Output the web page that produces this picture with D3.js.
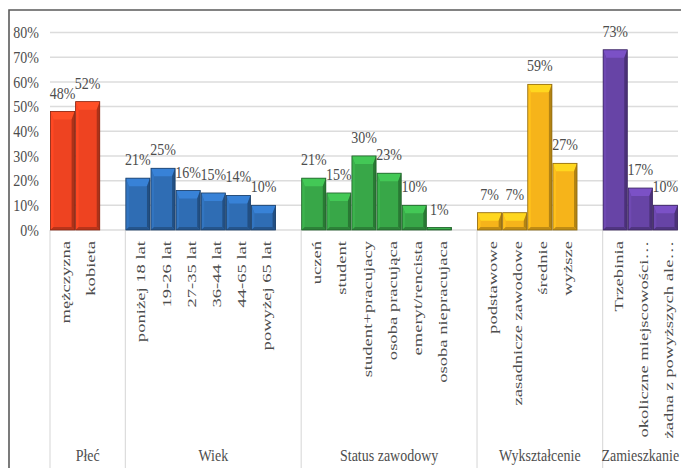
<!DOCTYPE html>
<html>
<head>
<meta charset="utf-8">
<script src="https://cdn.jsdelivr.net/npm/d3@7/dist/d3.min.js"></script>
<style>
  html, body { margin: 0; padding: 0; background: #fff; }
  svg { display: block; }
</style>
</head>
<body>
<svg id="chart" width="681" height="468" font-family="'Liberation Serif', 'Times New Roman', Tinos, 'DejaVu Serif', serif"></svg>
<script>
// Survey breakdown by respondent group (percent of respondents)
const groupNames = ["Płeć", "Wiek", "Status zawodowy", "Wykształcenie", "Zamieszkanie"];
const groupColors = ["#ee4321", "#2f6db4", "#38a748", "#f6b41a", "#6744a6"];

const plecCategories = ["mężczyzna", "kobieta"];
const plecValues = [48, 52];

const wiekCategories = ["poniżej 18 lat", "19-26 lat", "27-35 lat", "36-44 lat", "44-65 lat", "powyżej 65 lat"];
const wiekValues = [21, 25, 16, 15, 14, 10];

const statusCategories = ["uczeń", "student", "student+pracujacy", "osoba pracująca", "emeryt/rencista", "osoba niepracujaca"];
const statusValues = [21, 15, 30, 23, 10, 1];

const wyksztalcenieCategories = ["podstawowe", "zasadnicze zawodowe", "średnie", "wyższe"];
const wyksztalcenieValues = [7, 7, 59, 27];

const zamieszkanieCategories = ["Trzebinia", "okoliczne miejscowości…", "żadna z powyższych ale…"];
const zamieszkanieValues = [73, 17, 10];

const yTicks = [0, 10, 20, 30, 40, 50, 60, 70, 80];

const groupCategories = [plecCategories, wiekCategories, statusCategories, wyksztalcenieCategories, zamieszkanieCategories];
const groupValues = [plecValues, wiekValues, statusValues, wyksztalcenieValues, zamieszkanieValues];

// Build slots: each group's categories followed by one empty slot (except the last group)
const slots = [];
const bars = [];
groupNames.forEach((g, gi) => {
  groupCategories[gi].forEach((c, ci) => {
    const key = g + "|" + c;
    slots.push(key);
    bars.push({ key, group: gi, label: c, value: groupValues[gi][ci] });
  });
  if (gi < groupNames.length - 1) slots.push(g + "|__gap");
});

const svg = d3.select("#chart");
const plotLeft = 50, plotRight = 678, plotTop = 32.5, plotBase = 230, frameBottom = 468;
const textColor = "#4d4d4d";

const x = d3.scaleBand().domain(slots).range([plotLeft, plotRight]).padding(0);
const y = d3.scaleLinear().domain([0, 80]).range([plotBase, plotTop]);

// Outer frame (top and left edges)
svg.append("path")
  .attr("d", `M9,${frameBottom} L9,10 L681,10`)
  .attr("fill", "none").attr("stroke", "#5a5a5a").attr("stroke-width", 1.6);

// Gridlines
svg.append("g").selectAll("line").data(yTicks).join("line")
  .attr("x1", plotLeft).attr("x2", plotRight)
  .attr("y1", d => y(d)).attr("y2", d => y(d))
  .attr("stroke", "#dcdcdc").attr("stroke-width", 1.5);

// Y axis labels
svg.append("g").selectAll("text").data(yTicks).join("text")
  .attr("transform", d => `translate(39,${y(d)}) scale(1,1.15)`)
  .attr("text-anchor", "end").attr("dy", "0.36em")
  .attr("font-size", 14).attr("fill", textColor)
  .text(d => d + "%");

// Group separators on the category axis
const groupStarts = [];
groupNames.forEach((g, gi) => {
  groupStarts.push(x(g + "|" + groupCategories[gi][0]));
});
svg.append("g").selectAll("line").data(groupStarts).join("line")
  .attr("x1", d => d).attr("x2", d => d)
  .attr("y1", plotBase).attr("y2", frameBottom)
  .attr("stroke", "#dcdcdc").attr("stroke-width", 1.2);

// Bevelled bars
const barG = svg.append("g");
bars.forEach(b => {
  const x0 = x(b.key) + 0.5, x1 = x(b.key) + x.bandwidth() - 0.5;
  const y0 = y(b.value), y1 = plotBase;
  const h = y1 - y0;
  const col = d3.color(groupColors[b.group]);
  const g = barG.append("g");
  const bt = Math.min(8, h / 2), bs = Math.min(3, h / 2), bb = Math.min(3, h / 2);
  // face
  g.append("rect").attr("x", x0).attr("y", y0).attr("width", x1 - x0).attr("height", h)
    .attr("fill", col.formatHex());
  // top bevel
  g.append("path")
    .attr("d", `M${x0},${y0} L${x1},${y0} L${x1 - bs},${y0 + bt} L${x0 + bs},${y0 + bt} Z`)
    .attr("fill", col.brighter(0.5).formatHex());
  // left bevel
  g.append("path")
    .attr("d", `M${x0},${y0} L${x0 + bs},${y0 + bt} L${x0 + bs},${y1 - bb} L${x0},${y1} Z`)
    .attr("fill", col.brighter(0.2).formatHex());
  // right bevel
  g.append("path")
    .attr("d", `M${x1},${y0} L${x1},${y1} L${x1 - bs},${y1 - bb} L${x1 - bs},${y0 + bt} Z`)
    .attr("fill", col.darker(0.9).formatHex());
  // bottom bevel
  g.append("path")
    .attr("d", `M${x0},${y1} L${x1},${y1} L${x1 - bs},${y1 - bb} L${x0 + bs},${y1 - bb} Z`)
    .attr("fill", col.darker(0.7).formatHex());
  // outline
  g.append("rect").attr("x", x0).attr("y", y0).attr("width", x1 - x0).attr("height", h)
    .attr("fill", "none").attr("stroke", col.darker(1.6).formatHex()).attr("stroke-width", 0.8);
});

// Value labels
svg.append("g").selectAll("text").data(bars).join("text")
  .attr("transform", d => `translate(${x(d.key) + x.bandwidth() / 2},${y(d.value) - 13}) scale(1,1.15)`)
  .attr("text-anchor", "middle")
  .attr("font-size", 14).attr("fill", textColor)
  .text(d => d.value + "%");

// Category labels (rotated)
svg.append("g").selectAll("text").data(bars).join("text")
  .attr("transform", d => `translate(${x(d.key) + x.bandwidth() / 2 + 7.5},241) rotate(-90) scale(1.43,1)`)
  .attr("text-anchor", "end")
  .attr("font-size", 13).attr("fill", textColor)
  .text(d => d.label);

// Group labels
svg.append("g").selectAll("text").data(groupNames).join("text")
  .attr("transform", (d, i) => {
    const s = groupStarts[i];
    const e = i < groupNames.length - 1 ? groupStarts[i + 1] : plotRight;
    return `translate(${(s + e) / 2},461) scale(1,1.15)`;
  })
  .attr("text-anchor", "middle")
  .attr("font-size", 14).attr("fill", textColor)
  .text(d => d);
</script>
</body>
</html>
